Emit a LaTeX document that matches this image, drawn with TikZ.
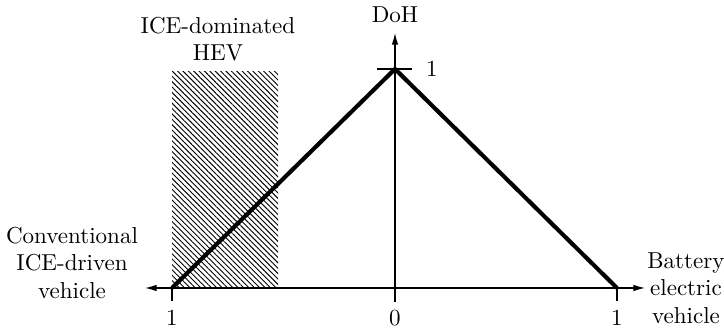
\documentclass[tikz,border=0pt]{standalone}
\usetikzlibrary{arrows.meta,patterns.meta}

\begin{document}
\begin{tikzpicture}[
    x=0.434pt, y=0.434pt,
    axis/.style={line width=0.5pt, -{Latex[length=5pt,width=2.8pt]}},
    tick/.style={line width=0.5pt},
    doh/.style={line width=1.8pt, line join=miter},
    hatch/.style={pattern={Lines[angle=-45, distance=1.65pt, line width=0.4pt]}},
    lbl/.style={font=\normalsize, align=center, inner sep=1pt}
]
\useasboundingbox (0,0) rectangle (724,329);
% points on the axes
\coordinate (orig) at (395,41);
\coordinate (conv) at (172,41);
\coordinate (bev) at (617,41);
\coordinate (peak) at (395,260);
\coordinate (xleft) at (145,41);
\coordinate (xright) at (645,41);
\coordinate (ytop) at (395,296);
\coordinate (ybot) at (395,27);
% ICE-dominated region
\fill[hatch] (conv) rectangle (278,257);
% axes and ticks
\draw[axis] (orig) -- (xleft);
\draw[axis] (orig) -- (xright);
\draw[axis] (ybot) -- (ytop);
\draw[tick] (conv) -- ++(0,-13);
\draw[tick] (bev) -- ++(0,-13);
\draw[tick] (peak) ++(-18,0) -- ++(35,0);
% degree of hybridization
\draw[doh] (conv) -- (peak) -- (bev);
% labels
\node[lbl] (lconv) at (72,66) {Conventional\\ICE-driven\\vehicle};
\node[lbl] (lbev) at (686,41) {Battery\\electric\\vehicle};
\node[lbl] (lhev) at (218,290) {ICE-dominated\\HEV};
\node[lbl] (ldoh) at (395,314) {DoH};
\node[lbl] (lone) at (432,260) {1};
\node[lbl] (tconv) at (172,11) {1};
\node[lbl] (torig) at (395,11) {0};
\node[lbl] (tbev) at (617,11) {1};
\end{tikzpicture}
\end{document}
